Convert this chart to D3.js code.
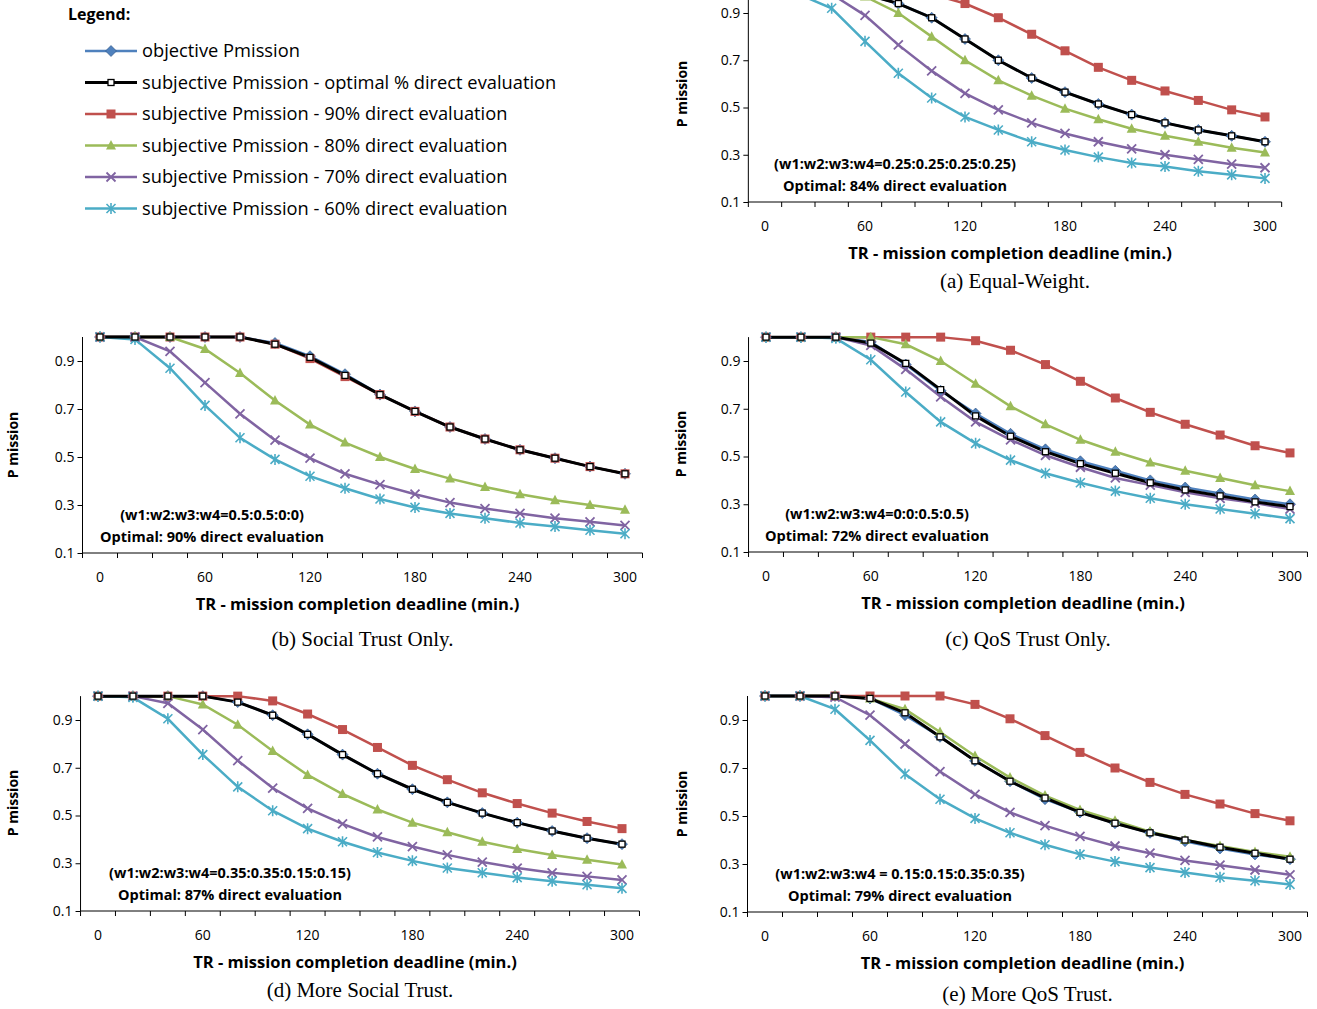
<!DOCTYPE html>
<html><head><meta charset="utf-8">
<script src="https://cdn.jsdelivr.net/npm/d3@7"></script>
<style>body{margin:0;background:#fff}svg{display:block}</style>
</head><body>
<svg id="chart" width="1317" height="1009"></svg>
<script>
'use strict';

var minutes = d3.range(0, 301, 20);
var xTicks = [0, 60, 120, 180, 240, 300];
var yTicks = [0.1, 0.3, 0.5, 0.7, 0.9];

var seriesNames = [
  'objective Pmission',
  'subjective Pmission - optimal % direct evaluation',
  'subjective Pmission - 90% direct evaluation',
  'subjective Pmission - 80% direct evaluation',
  'subjective Pmission - 70% direct evaluation',
  'subjective Pmission - 60% direct evaluation'
];

// (a) Equal-Weight
var eqObj  = [1,1,1,0.98,0.94,0.88,0.79,0.70,0.625,0.565,0.515,0.47,0.435,0.405,0.38,0.355];
var eqOpt  = [1,1,1,0.98,0.94,0.88,0.79,0.70,0.625,0.565,0.515,0.47,0.435,0.405,0.38,0.355];
var eq90   = [1,1,1,1,1,0.98,0.94,0.88,0.81,0.74,0.67,0.615,0.57,0.53,0.49,0.46];
var eq80   = [1,1,1,0.97,0.90,0.80,0.70,0.615,0.55,0.495,0.45,0.41,0.38,0.355,0.33,0.31];
var eq70   = [1,1,0.98,0.89,0.765,0.655,0.56,0.49,0.435,0.39,0.355,0.325,0.30,0.28,0.26,0.245];
var eq60   = [1,0.98,0.92,0.78,0.645,0.54,0.46,0.405,0.355,0.32,0.29,0.265,0.25,0.23,0.215,0.20];

// (b) Social Trust Only
var soObj  = [1,1,1,1,1,0.975,0.92,0.845,0.76,0.69,0.625,0.575,0.53,0.495,0.46,0.43];
var soOpt  = [1,1,1,1,1,0.97,0.915,0.84,0.76,0.69,0.625,0.575,0.53,0.495,0.46,0.43];
var so90   = [1,1,1,1,1,0.97,0.91,0.835,0.76,0.69,0.625,0.575,0.53,0.495,0.46,0.43];
var so80   = [1,1,1,0.95,0.85,0.735,0.635,0.56,0.50,0.45,0.41,0.375,0.345,0.32,0.30,0.28];
var so70   = [1,1,0.94,0.81,0.68,0.57,0.495,0.43,0.385,0.345,0.31,0.285,0.265,0.245,0.23,0.215];
var so60   = [1,0.99,0.87,0.715,0.58,0.49,0.42,0.37,0.325,0.29,0.265,0.245,0.225,0.21,0.195,0.18];

// (c) QoS Trust Only
var qoObj  = [1,1,1,0.98,0.885,0.775,0.68,0.595,0.53,0.48,0.44,0.40,0.37,0.345,0.32,0.30];
var qoOpt  = [1,1,1,0.975,0.89,0.78,0.67,0.585,0.52,0.47,0.43,0.39,0.36,0.335,0.31,0.29];
var qo90   = [1,1,1,1,1,1,0.985,0.945,0.885,0.815,0.745,0.685,0.635,0.59,0.545,0.515];
var qo80   = [1,1,1,1,0.97,0.90,0.805,0.71,0.635,0.57,0.52,0.475,0.44,0.41,0.38,0.355];
var qo70   = [1,1,1,0.965,0.865,0.75,0.645,0.57,0.505,0.455,0.41,0.38,0.35,0.325,0.305,0.28];
var qo60   = [1,1,0.995,0.905,0.77,0.645,0.555,0.485,0.43,0.39,0.355,0.325,0.30,0.28,0.26,0.24];

// (d) More Social Trust
var msObj  = [1,1,1,1,0.975,0.92,0.84,0.755,0.675,0.61,0.555,0.51,0.47,0.435,0.405,0.38];
var msOpt  = [1,1,1,1,0.975,0.92,0.84,0.755,0.675,0.61,0.555,0.51,0.47,0.435,0.405,0.38];
var ms90   = [1,1,1,1,1,0.98,0.925,0.86,0.785,0.71,0.65,0.595,0.55,0.51,0.475,0.445];
var ms80   = [1,1,1,0.965,0.88,0.77,0.67,0.59,0.525,0.47,0.43,0.39,0.36,0.335,0.315,0.295];
var ms70   = [1,1,0.97,0.86,0.73,0.615,0.53,0.465,0.41,0.37,0.335,0.305,0.28,0.26,0.245,0.23];
var ms60   = [1,0.995,0.905,0.755,0.62,0.52,0.445,0.39,0.345,0.31,0.28,0.26,0.24,0.225,0.21,0.195];

// (e) More QoS Trust
var mqObj  = [1,1,1,0.99,0.92,0.83,0.73,0.645,0.57,0.515,0.47,0.43,0.395,0.365,0.34,0.32];
var mqOpt  = [1,1,1,0.99,0.93,0.83,0.73,0.645,0.575,0.515,0.47,0.43,0.40,0.37,0.345,0.32];
var mq90   = [1,1,1,1,1,1,0.965,0.905,0.835,0.765,0.70,0.64,0.59,0.55,0.51,0.48];
var mq80   = [1,1,1,0.99,0.945,0.85,0.75,0.66,0.585,0.525,0.48,0.435,0.40,0.375,0.35,0.33];
var mq70   = [1,1,0.995,0.92,0.80,0.685,0.59,0.515,0.46,0.415,0.375,0.345,0.315,0.295,0.275,0.255];
var mq60   = [1,1,0.945,0.815,0.675,0.57,0.49,0.43,0.38,0.34,0.31,0.285,0.265,0.245,0.23,0.215];

var colors = ['#4F81BD', '#000000', '#C0504D', '#9BBB59', '#8064A2', '#4BACC6'];
var markers = ['diamond', 'hsquare', 'square', 'triangle', 'x', 'star'];

var panels = [
  {x0:765, x1:1265, y1:202, y9:13,  cap:86, caption:'(a) Equal-Weight.', note:['(w1:w2:w3:w4=0.25:0.25:0.25:0.25)','Optimal: 84% direct evaluation'], noteDx:130, label:687,
   data:[eqObj, eqOpt, eq90, eq80, eq70, eq60]},
  {x0:100, x1:625,  y1:553, y9:361, cap:93, caption:'(b) Social Trust Only.', note:['(w1:w2:w3:w4=0.5:0.5:0:0)','Optimal: 90% direct evaluation'], noteDx:112, label:18,
   data:[soObj, soOpt, so90, so80, so70, so60]},
  {x0:766, x1:1290, y1:552, y9:361, cap:94, caption:'(c) QoS Trust Only.', note:['(w1:w2:w3:w4=0:0:0.5:0.5)','Optimal: 72% direct evaluation'], noteDx:111, label:686,
   data:[qoObj, qoOpt, qo90, qo80, qo70, qo60]},
  {x0:98,  x1:622,  y1:911, y9:720, cap:86, caption:'(d) More Social Trust.', note:['(w1:w2:w3:w4=0.35:0.35:0.15:0.15)','Optimal: 87% direct evaluation'], noteDx:132, label:18,
   data:[msObj, msOpt, ms90, ms80, ms70, ms60]},
  {x0:765, x1:1290, y1:912, y9:720, cap:89, caption:'(e) More QoS Trust.', note:['(w1:w2:w3:w4 = 0.15:0.15:0.35:0.35)','Optimal: 79% direct evaluation'], noteDx:135, label:687,
   data:[mqObj, mqOpt, mq90, mq80, mq70, mq60]}
];

var svg = d3.select('#chart');
var font = '"Open Sans", Lato, sans-serif';

function drawMarker(g, type, color, x, y){
  var s = 4.5;
  if(type === 'diamond'){
    g.append('path').attr('d', 'M'+x+','+(y-s-1)+'L'+(x+s+1)+','+y+'L'+x+','+(y+s+1)+'L'+(x-s-1)+','+y+'Z')
      .attr('fill', color).attr('stroke', '#2a4f7f').attr('stroke-width', 0.6);
  } else if(type === 'square'){
    g.append('rect').attr('x', x-s).attr('y', y-s).attr('width', 2*s).attr('height', 2*s).attr('fill', color);
  } else if(type === 'hsquare'){
    g.append('rect').attr('x', x-3).attr('y', y-3).attr('width', 6).attr('height', 6)
      .attr('fill', '#fff').attr('stroke', color).attr('stroke-width', 1.3);
  } else if(type === 'triangle'){
    g.append('path').attr('d', 'M'+x+','+(y-s-1)+'L'+(x+s+0.5)+','+(y+s-0.5)+'L'+(x-s-0.5)+','+(y+s-0.5)+'Z').attr('fill', color);
  } else if(type === 'x'){
    g.append('path').attr('d', 'M'+(x-s)+','+(y-s)+'L'+(x+s)+','+(y+s)+'M'+(x+s)+','+(y-s)+'L'+(x-s)+','+(y+s)).attr('stroke', color).attr('stroke-width', 1.8);
  } else {
    g.append('path').attr('d', 'M'+(x-s)+','+(y-s)+'L'+(x+s)+','+(y+s)+'M'+(x+s)+','+(y-s)+'L'+(x-s)+','+(y+s)+'M'+x+','+(y-s-1)+'L'+x+','+(y+s+1))
      .attr('stroke', color).attr('stroke-width', 1.6);
  }
}

panels.forEach(function(p){
  var x = d3.scaleLinear().domain([0, 300]).range([p.x0, p.x1]);
  var y = d3.scaleLinear().domain([0.1, 0.9]).range([p.y1, p.y9]);
  var g = svg.append('g');

  // y axis
  var yAxis = d3.axisLeft(y).tickValues(yTicks).tickSize(5).tickFormat(d3.format('.1f'));
  var ya = g.append('g').attr('transform', 'translate(' + x(-10) + ',0)').call(yAxis);
  ya.select('.domain').attr('d', 'M0,' + y(1.0) + 'V' + p.y1);
  ya.selectAll('text').attr('font-family', font).attr('font-size', 14).attr('fill', '#000');

  // x axis
  var xa = g.append('g').attr('transform', 'translate(0,' + p.y1 + ')');
  xa.append('line').attr('x1', x(-10)).attr('x2', x(310)).attr('stroke', '#000');
  xa.selectAll('.tk').data(d3.range(-10, 311, 20)).enter().append('line')
    .attr('x1', function(d){ return x(d); }).attr('x2', function(d){ return x(d); })
    .attr('y1', 0).attr('y2', 5).attr('stroke', '#000');
  xa.selectAll('.tl').data(xTicks).enter().append('text')
    .attr('x', function(d){ return x(d); }).attr('y', 29)
    .attr('text-anchor', 'middle').attr('font-family', font).attr('font-size', 14)
    .text(function(d){ return d; });

  g.append('text').attr('x', (x(-10) + x(310)) / 2 - 5).attr('y', p.y1 + 57)
    .attr('text-anchor', 'middle').attr('font-family', font).attr('font-size', 16.5).attr('font-weight', 'bold')
    .text('TR - mission completion deadline (min.)');
  g.append('text').attr('transform', 'translate(' + p.label + ',' + (p.y1 - 108) + ') rotate(-90)')
    .attr('text-anchor', 'middle').attr('font-family', font).attr('font-size', 14).attr('font-weight', 'bold')
    .text('P mission');
  g.append('text').attr('x', (x(-10) + x(310)) / 2).attr('y', p.y1 + p.cap)
    .attr('text-anchor', 'middle').attr('font-family', '"Liberation Serif", serif').attr('font-size', 21)
    .text(p.caption);

  p.note.forEach(function(t, i){
    g.append('text').attr('x', p.x0 + p.noteDx).attr('y', p.y1 - 33 + i * 22)
      .attr('text-anchor', 'middle').attr('font-family', font).attr('font-size', 14.5).attr('font-weight', 'bold')
      .text(t);
  });

  var line = d3.line().x(function(d, i){ return x(minutes[i]); }).y(function(d){ return y(d); });
  var order = [0, 2, 3, 4, 5, 1];
  order.forEach(function(k){
    g.append('path').datum(p.data[k]).attr('d', line).attr('fill', 'none')
      .attr('stroke', colors[k]).attr('stroke-width', k === 1 ? 3 : 2.5);
  });
  order.forEach(function(k){
    p.data[k].forEach(function(v, i){ drawMarker(g, markers[k], colors[k], x(minutes[i]), y(v)); });
  });
});

// legend
var lg = svg.append('g');
lg.append('text').attr('x', 68).attr('y', 20).attr('font-family', font).attr('font-size', 16).attr('font-weight', 'bold').text('Legend:');
seriesNames.forEach(function(name, k){
  var yy = 51 + k * 31.5;
  lg.append('line').attr('x1', 85).attr('x2', 137).attr('y1', yy).attr('y2', yy)
    .attr('stroke', colors[k]).attr('stroke-width', k === 1 ? 3 : 2.5);
  drawMarker(lg, markers[k], colors[k], 111, yy);
  lg.append('text').attr('x', 142).attr('y', yy + 6).attr('font-family', font).attr('font-size', 18.3).text(name);
});
</script>
</body></html>
